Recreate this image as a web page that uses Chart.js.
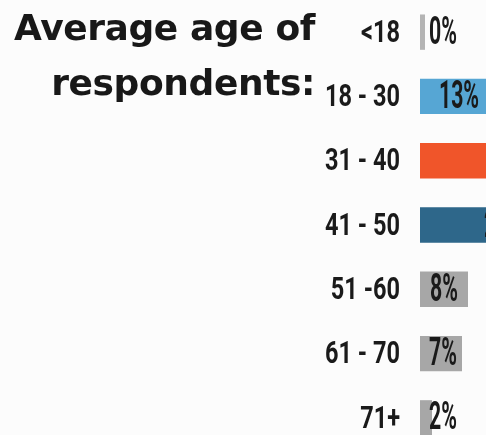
<!DOCTYPE html>
<html>
<head>
<meta charset="utf-8">
<script src="https://cdn.jsdelivr.net/npm/chart.js@4.4.1/dist/chart.umd.min.js"></script>
<style>
  html, body { margin: 0; padding: 0; background: #fcfcfc; overflow: hidden; }
  #wrap { position: relative; width: 486px; height: 435px; overflow: hidden; }
  #ageChart { position: absolute; left: 0; top: 0; }
  #title {
    position: absolute; right: 171px; top: 0;
    font-family: "DejaVu Sans", sans-serif; font-weight: bold;
    font-size: 36px; line-height: 55px; color: #181818;
    text-align: right; white-space: nowrap; letter-spacing: -0.4px;
  }
</style>
</head>
<body>
<div id="wrap">
  <canvas id="ageChart" width="486" height="450"></canvas>
  <div id="title">Average age of<br>respondents:</div>
</div>
<script>
  var categories = ['<18', '18 - 30', '31 - 40', '41 - 50', '51 -60', '61 - 70', '71+'];
  var shares = [0, 13, 42, 28, 8, 7, 2];
  var valueLabels = ['0%', '13%', '42%', '28%', '8%', '7%', '2%'];
  var barColors = ['#b4b4b4', '#56a6d4', '#f0552a', '#2e678a', '#a7a7a7', '#a7a7a7', '#a7a7a7'];

  // squeezed text helper, gives a condensed look with the installed fonts
  function squeezedText(ctx, text, x, y, squeeze) {
    ctx.save();
    ctx.translate(x, y);
    ctx.scale(squeeze, 1);
    ctx.fillText(text, 0, 0);
    ctx.restore();
  }

  var labelPlugin = {
    id: 'ageLabels',
    afterDatasetsDraw: function (chart) {
      var ctx = chart.ctx;
      var yScale = chart.scales.y;
      var meta = chart.getDatasetMeta(0);
      ctx.save();
      ctx.fillStyle = '#1a1a1a';
      ctx.textBaseline = 'middle';

      // category names
      ctx.font = 'bold 31px Roboto, sans-serif';
      ctx.textAlign = 'right';
      categories.forEach(function (c, i) {
        squeezedText(ctx, c, yScale.right - 20, yScale.getPixelForValue(i) + 2, 0.76);
      });

      // percentages
      ctx.font = 'bold 38px Roboto, sans-serif';
      ctx.textAlign = 'left';
      var sq = 0.56;
      meta.data.forEach(function (bar, i) {
        var text = valueLabels[i];
        var w = ctx.measureText(text).width * sq;
        var left = Math.max((bar.base + bar.x) / 2 - w / 2, bar.base + 9);
        squeezedText(ctx, text, left, bar.y + 2, sq);
      });
      ctx.restore();
    }
  };

  var ctx = document.getElementById('ageChart').getContext('2d');
  var ageChart = new Chart(ctx, {
    type: 'bar',
    data: {
      labels: categories,
      datasets: [{
        data: shares,
        backgroundColor: barColors,
        borderWidth: 0,
        minBarLength: 5,
        categoryPercentage: 1,
        barPercentage: 0.55
      }]
    },
    options: {
      indexAxis: 'y',
      responsive: false,
      animation: false,
      layout: { padding: 0 },
      plugins: {
        legend: { display: false },
        tooltip: { enabled: false }
      },
      scales: {
        x: {
          display: false,
          min: 0,
          max: 11
        },
        y: {
          grid: { display: false },
          border: { display: false },
          ticks: { display: false },
          afterFit: function (scale) { scale.width = 420; }
        }
      }
    },
    plugins: [labelPlugin]
  });
</script>
</body>
</html>
